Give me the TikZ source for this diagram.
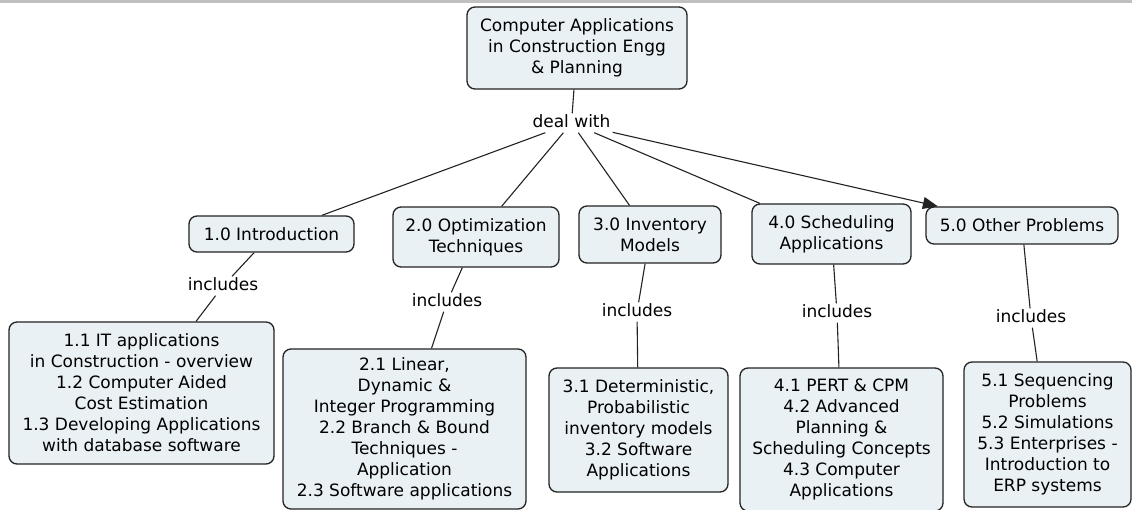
\documentclass[tikz,border=0pt]{standalone}
\usepackage{fontspec}
\setmainfont{DejaVu Sans}
\usetikzlibrary{arrows.meta}
\definecolor{nodefill}{RGB}{233,241,244}
\definecolor{edgecol}{RGB}{35,35,35}
\definecolor{barcol}{RGB}{192,192,192}
\begin{document}
\begin{tikzpicture}[x=1pt,y=-1pt,
  concept/.style={draw=edgecol, line width=1.3pt, fill=nodefill, rounded corners=8pt,
    align=center, inner sep=0pt, text=black, font=\fontsize{17}{21}\selectfont},
  linklabel/.style={inner xsep=2pt, inner ysep=1pt, text height=13pt, text depth=4pt,
    text=black, font=\fontsize{17}{21}\selectfont},
  conn/.style={draw=edgecol, line width=1.1pt},
  arrowconn/.style={conn, -{Triangle[length=15pt,width=12pt]}}]
\useasboundingbox (0,0) rectangle (1132,510);
\fill[white] (0,0) rectangle (1132,510);
\fill[barcol] (0,0) rectangle (1132,2.7);

% concepts
\node[concept, minimum width=220pt, minimum height=82pt] (root) at (577,48)
  {Computer Applications\\in Construction Engg\\\& Planning};
\node[concept, minimum width=165pt, minimum height=36pt] (c1) at (271.5,234) {1.0 Introduction};
\node[concept, minimum width=166pt, minimum height=60pt] (c2) at (476,237) {2.0 Optimization\\Techniques};
\node[concept, minimum width=142pt, minimum height=57pt] (c3) at (650,234.5) {3.0 Inventory\\Models};
\node[concept, minimum width=159pt, minimum height=60pt] (c4) at (831.5,234) {4.0 Scheduling\\Applications};
\node[concept, minimum width=192pt, minimum height=37pt] (c5) at (1022,225.5) {5.0 Other Problems};

\node[concept, minimum width=265pt, minimum height=142pt] (s1) at (141.5,393)
  {1.1 IT applications\\in Construction - overview\\1.2 Computer Aided\\Cost Estimation\\1.3 Developing Applications\\with database software};
\node[concept, minimum width=243pt, minimum height=160pt] (s2) at (404.5,429)
  {2.1 Linear,\\Dynamic \&\\Integer Programming\\2.2 Branch \& Bound\\Techniques -\\Application\\2.3 Software applications};
\node[concept, minimum width=179pt, minimum height=124pt] (s3) at (638.5,430)
  {3.1 Deterministic,\\Probabilistic\\inventory models\\3.2 Software\\Applications};
\node[concept, minimum width=203pt, minimum height=143pt] (s4) at (841.5,439.5)
  {4.1 PERT \& CPM\\4.2 Advanced\\Planning \&\\Scheduling Concepts\\4.3 Computer\\Applications};
\node[concept, minimum width=167pt, minimum height=145pt] (s5) at (1047.5,434.5)
  {5.1 Sequencing\\Problems\\5.2 Simulations\\5.3 Enterprises -\\Introduction to\\ERP systems};

% linking phrases
\node[linklabel] (dw) at (571.5,123) {deal with};
\node[linklabel] (i1) at (223,286) {includes};
\node[linklabel] (i2) at (447,302) {includes};
\node[linklabel] (i3) at (637,312) {includes};
\node[linklabel] (i4) at (837,313) {includes};
\node[linklabel] (i5) at (1031,318) {includes};

% connectors
\draw[conn] (root) -- (dw);
\draw[conn] (dw) -- (c1);
\draw[conn] (dw) -- (c2);
\draw[conn] (dw) -- (c3);
\draw[conn] (dw) -- (c4);
\draw[arrowconn] (dw) -- (c5);

\draw[conn] (c1) -- (i1);
\draw[conn] (i1) -- (s1);
\draw[conn] (c2) -- (i2);
\draw[conn] (i2) -- (s2);
\draw[conn] (c3) -- (i3);
\draw[conn] (i3) -- (s3);
\draw[conn] (c4) -- (i4);
\draw[conn] (i4) -- (s4);
\draw[conn] (c5) -- (i5);
\draw[conn] (i5) -- (s5);
\end{tikzpicture}
\end{document}
